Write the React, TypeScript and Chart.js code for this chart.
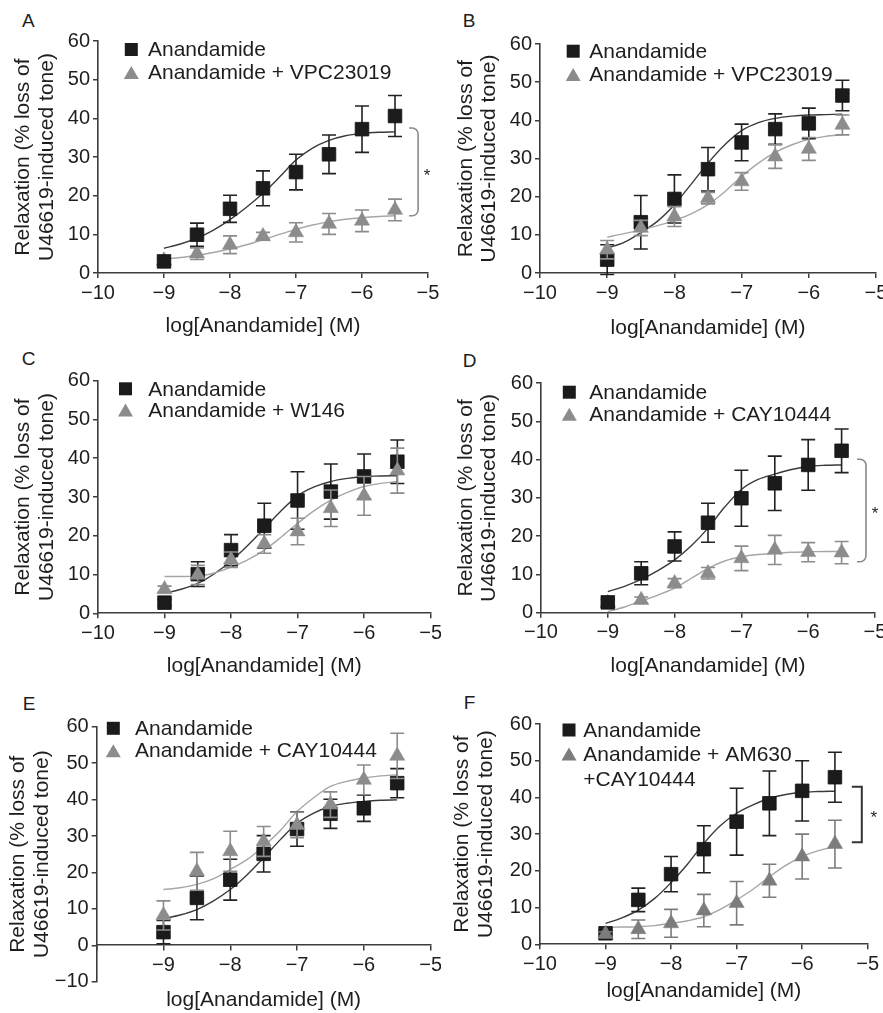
import React, { useEffect, useRef } from 'react';
import { Chart, registerables } from 'chart.js';

Chart.register(...registerables);

const FONT = '"Liberation Sans", Arial, Helvetica, sans-serif';

// ---------- shared axes / x positions ----------
const concentrations = [-9, -8.5, -8, -7.5, -7, -6.5, -6, -5.5];
const fitX = [-9, -8.75, -8.5, -8.25, -8, -7.75, -7.5, -7.25, -7, -6.75, -6.5, -6.25, -6, -5.75, -5.5];
const xTickValues = [-10, -9, -8, -7, -6, -5];
const yTickValues = [0, 10, 20, 30, 40, 50, 60];
const yTickValuesE = [-10, 0, 10, 20, 30, 40, 50, 60];
const xTitle = 'log[Anandamide] (M)';
const yTitle = ['Relaxation (% loss of', 'U46619-induced tone)'];
const blackLabel = ['Anandamide'];

// ---------- Panel A ----------
const aBlackMean = [3.0, 9.9, 16.6, 21.9, 26.1, 30.7, 37.2, 40.6];
const aBlackErr = [0.8, 3.0, 3.5, 4.5, 4.6, 5.0, 6.0, 5.3];
const aGrayMean = [3.2, 5.0, 7.3, 9.5, 10.5, 12.7, 13.5, 16.3];
const aGrayErr = [0.8, 1.5, 2.3, 1.0, 2.5, 2.7, 2.8, 2.8];
const aBlackFit = [6.4, 7.5, 9.0, 11.1, 13.8, 17.0, 20.6, 24.8, 29.2, 32.3, 34.3, 35.5, 36.1, 36.4, 36.5];
const aGrayFit = [3.6, 4.0, 4.6, 5.3, 6.2, 7.3, 8.6, 10.0, 11.3, 12.4, 13.3, 13.9, 14.3, 14.6, 14.8];
const aGrayLabel = ['Anandamide + VPC23019'];

// ---------- Panel B ----------
const bBlackMean = [3.5, 13.3, 19.4, 27.2, 34.2, 37.7, 39.2, 46.5];
const bBlackErr = [3.9, 7.0, 6.3, 5.7, 4.8, 4.0, 4.0, 4.0];
const bGrayMean = [6.1, 11.8, 14.8, 19.6, 24.0, 30.5, 32.5, 38.8];
const bGrayErr = [2.4, 2.0, 2.6, 1.5, 2.3, 3.1, 3.0, 2.6];
const bBlackFit = [6.5, 8.0, 10.6, 13.6, 17.9, 23.3, 28.8, 33.6, 37.3, 39.4, 40.5, 41.1, 41.4, 41.5, 41.6];
const bGrayFit = [9.4, 10.3, 11.3, 12.4, 13.8, 15.5, 17.9, 21.3, 25.3, 28.8, 31.6, 33.6, 35.0, 35.8, 36.2];
const bGrayLabel = ['Anandamide + VPC23019'];

// ---------- Panel C ----------
const cBlackMean = [2.75, 10.1, 16.3, 22.6, 29.1, 31.4, 35.3, 39.1];
const cBlackErr = [0.8, 3.2, 4.0, 5.8, 7.4, 7.1, 5.8, 5.6];
const cGrayMean = [6.2, 9.9, 13.8, 17.9, 21.1, 27.1, 30.3, 36.8];
const cGrayErr = [0.8, 2.5, 2.0, 2.4, 3.4, 4.7, 5.0, 5.8];
const cBlackFit = [5.2, 6.2, 7.7, 10.2, 13.5, 17.5, 21.9, 26.4, 30.3, 32.6, 34.0, 34.8, 35.3, 35.4, 35.5];
const cGrayFit = [9.5, 9.5, 9.6, 10.4, 11.9, 13.8, 16.3, 19.6, 23.2, 26.5, 29.2, 31.2, 32.7, 33.5, 34.0];
const cGrayLabel = ['Anandamide + W146'];

// ---------- Panel D ----------
const dBlackMean = [2.7, 10.3, 17.3, 23.5, 29.9, 33.8, 38.6, 42.3];
const dBlackErr = [0.8, 3.0, 3.8, 5.1, 7.3, 7.1, 6.6, 5.7];
const dGrayMean = [2.5, 3.3, 7.7, 10.3, 14.2, 16.4, 15.8, 15.7];
const dGrayErr = [0.5, 0.8, 1.2, 1.5, 3.2, 3.8, 2.5, 2.9];
const dBlackFit = [5.5, 6.9, 8.7, 11.0, 13.8, 17.5, 22.1, 27.6, 32.2, 34.8, 36.2, 37.4, 38.2, 38.5, 38.6];
const dGrayFit = [0.3, 1.5, 3.0, 4.6, 6.4, 9.0, 11.6, 13.5, 14.6, 15.2, 15.5, 15.8, 15.9, 16.0, 16.0];
const dGrayLabel = ['Anandamide + CAY10444'];

// ---------- Panel E ----------
const eBlackMean = [3.6, 13.0, 18.0, 25.1, 31.9, 36.1, 37.6, 44.5];
const eBlackErr = [3.2, 6.0, 5.6, 5.0, 4.7, 4.0, 3.6, 4.0];
const eGrayMean = [8.2, 20.3, 25.8, 28.5, 33.0, 38.6, 45.4, 52.0];
const eGrayErr = [4.0, 5.2, 5.5, 4.1, 3.5, 3.5, 4.1, 6.2];
const eBlackFit = [7.3, 8.3, 9.8, 12.2, 15.3, 19.3, 24.0, 29.0, 33.5, 36.3, 38.1, 39.0, 39.5, 39.8, 39.9];
const eGrayFit = [15.3, 15.8, 16.7, 18.3, 20.8, 23.5, 27.2, 31.5, 36.7, 40.5, 43.6, 45.0, 45.9, 46.5, 46.8];
const eGrayLabel = ['Anandamide + CAY10444'];

// ---------- Panel F ----------
const fBlackMean = [3.0, 12.1, 19.1, 25.9, 33.4, 38.4, 41.8, 45.5];
const fBlackErr = [0.8, 3.2, 4.8, 6.4, 9.1, 8.8, 8.2, 6.8];
const fGrayMean = [2.8, 4.1, 5.7, 9.2, 11.2, 17.3, 23.9, 27.3];
const fGrayErr = [0.6, 2.5, 3.8, 4.4, 5.9, 4.5, 6.1, 6.5];
const fBlackFit = [5.7, 7.2, 9.3, 12.5, 16.8, 21.8, 27.5, 32.3, 35.7, 38.0, 39.7, 40.8, 41.4, 41.6, 41.7];
const fGrayFit = [4.6, 4.7, 4.8, 5.1, 5.7, 6.4, 7.5, 9.5, 12.1, 15.0, 18.4, 21.5, 23.9, 25.5, 26.6];
const fGrayLabel = ['Anandamide + AM630', '+CAY10444'];

// ---------- layout / styling ----------
type Rect = { x: number; y: number; w: number; h: number };
type Area = { l: number; r: number; t: number; b: number };
type Bracket = { x: number; top: number; bottom: number; rounded: boolean; color: string; width: number; starDx: number };
type Panel = {
  letter: string;
  letterPos: [number, number];
  canvas: Rect;
  area: Area;
  yTitleX: number;
  xTitleY: number;
  yMin: number;
  yTicks: number[];
  axisAtZero: boolean;
  blackMean: number[]; blackErr: number[]; grayMean: number[]; grayErr: number[];
  blackFit: number[]; grayFit: number[];
  grayLabel: string[];
  legend: { mx: number; ys: number[]; tx: number };
  grayOnTop: boolean;
  grayColor: string;
  bracket?: Bracket;
};

const GRAY = '#8c8c8c';

const panels: Panel[] = [
  {
    letter: 'A', letterPos: [22, 13],
    canvas: { x: 0, y: 26, w: 441, h: 314 }, area: { l: 98, r: 428, t: 41, b: 273 },
    yTitleX: 23.3, xTitleY: 326, yMin: 0, yTicks: yTickValues, axisAtZero: false,
    blackMean: aBlackMean, blackErr: aBlackErr, grayMean: aGrayMean, grayErr: aGrayErr,
    blackFit: aBlackFit, grayFit: aGrayFit, grayLabel: aGrayLabel,
    legend: { mx: 131.3, ys: [49.5, 72.5], tx: 148 }, grayOnTop: false, grayColor: GRAY,
    bracket: { x: -5.15, top: 37.5, bottom: 14.8, rounded: true, color: '#8a8a8a', width: 1.6, starDx: 9 },
  },
  {
    letter: 'B', letterPos: [462.7, 13],
    canvas: { x: 441, y: 26, w: 454, h: 316 }, area: { l: 540, r: 876, t: 44, b: 273 },
    yTitleX: 466, xTitleY: 328.3, yMin: 0, yTicks: yTickValues, axisAtZero: false,
    blackMean: bBlackMean, blackErr: bBlackErr, grayMean: bGrayMean, grayErr: bGrayErr,
    blackFit: bBlackFit, grayFit: bGrayFit, grayLabel: bGrayLabel,
    legend: { mx: 573.2, ys: [51.2, 74.5], tx: 589.3 }, grayOnTop: true, grayColor: GRAY,
  },
  {
    letter: 'C', letterPos: [21.7, 351.7],
    canvas: { x: 0, y: 366, w: 441, h: 314 }, area: { l: 98, r: 433, t: 380.7, b: 613.3 },
    yTitleX: 23.3, xTitleY: 666, yMin: 0, yTicks: yTickValues, axisAtZero: false,
    blackMean: cBlackMean, blackErr: cBlackErr, grayMean: cGrayMean, grayErr: cGrayErr,
    blackFit: cBlackFit, grayFit: cGrayFit, grayLabel: cGrayLabel,
    legend: { mx: 125.5, ys: [388.8, 410], tx: 148.3 }, grayOnTop: true, grayColor: GRAY,
  },
  {
    letter: 'D', letterPos: [462.7, 353],
    canvas: { x: 441, y: 366, w: 454, h: 314 }, area: { l: 541, r: 875, t: 383, b: 612.7 },
    yTitleX: 466, xTitleY: 666, yMin: 0, yTicks: yTickValues, axisAtZero: false,
    blackMean: dBlackMean, blackErr: dBlackErr, grayMean: dGrayMean, grayErr: dGrayErr,
    blackFit: dBlackFit, grayFit: dGrayFit, grayLabel: dGrayLabel,
    legend: { mx: 569.3, ys: [392.2, 414.2], tx: 589.3 }, grayOnTop: false, grayColor: GRAY,
    bracket: { x: -5.135, top: 40.1, bottom: 13.3, rounded: true, color: '#8a8a8a', width: 1.6, starDx: 9 },
  },
  {
    letter: 'E', letterPos: [22.7, 696.7],
    canvas: { x: 0, y: 700, w: 441, h: 313 }, area: { l: 96.7, r: 435, t: 726.7, b: 981.7 },
    yTitleX: 18.5, xTitleY: 1000, yMin: -10, yTicks: yTickValuesE, axisAtZero: true,
    blackMean: eBlackMean, blackErr: eBlackErr, grayMean: eGrayMean, grayErr: eGrayErr,
    blackFit: eBlackFit, grayFit: eGrayFit, grayLabel: eGrayLabel,
    legend: { mx: 113.3, ys: [728.3, 750.7], tx: 135 }, grayOnTop: true, grayColor: GRAY,
  },
  {
    letter: 'F', letterPos: [463.7, 695],
    canvas: { x: 441, y: 700, w: 454, h: 306 }, area: { l: 540, r: 867.7, t: 724, b: 944.3 },
    yTitleX: 462.7, xTitleY: 991.7, yMin: 0, yTicks: yTickValues, axisAtZero: false,
    blackMean: fBlackMean, blackErr: fBlackErr, grayMean: fGrayMean, grayErr: fGrayErr,
    blackFit: fBlackFit, grayFit: fGrayFit, grayLabel: fGrayLabel,
    legend: { mx: 569, ys: [730, 754, 779], tx: 583.3 }, grayOnTop: true, grayColor: '#7c7c7c',
    bracket: { x: -5.09, top: 42.9, bottom: 27.8, rounded: false, color: '#333333', width: 2, starDx: 12 },
  },
];

const TITLE_SIZE = 21;
const TITLE_LH = 1.12;
const L = TITLE_SIZE * TITLE_LH;
const TEXT = '#1e1e1e';
const AXIS = '#3c3c3c';

const fmt = (v: number) => (v < 0 ? '\u2212' + Math.abs(v) : String(v));

function drawSquare(ctx: CanvasRenderingContext2D, x: number, y: number, s: number, color: string) {
  ctx.fillStyle = color;
  ctx.fillRect(x - s / 2, y - s / 2, s, s);
}
function drawTriangle(ctx: CanvasRenderingContext2D, x: number, y: number, w: number, h: number, color: string) {
  ctx.fillStyle = color;
  ctx.beginPath();
  ctx.moveTo(x, y - h / 2);
  ctx.lineTo(x + w / 2, y + h / 2);
  ctx.lineTo(x - w / 2, y + h / 2);
  ctx.closePath();
  ctx.fill();
}

function makeChart(canvas: HTMLCanvasElement, p: Panel) {
  const c = p.canvas;
  const yW = p.area.l - c.x;
  const padTop = p.area.t - c.y;
  const padRight = c.x + c.w - p.area.r;
  const bottomH = c.y + c.h - p.area.b;
  const yTitlePad = p.yTitleX - c.x - L / 2;
  const xTitlePad = c.y + c.h - p.xTitleY - L / 2;

  const errorBars = {
    id: 'errorBars' + p.letter,
    beforeDatasetDraw(chart: any, args: any) {
      const ds: any = chart.data.datasets[args.index];
      if (!ds.errors) return;
      const ctx = chart.ctx;
      const ys = chart.scales.y;
      ctx.save();
      ctx.strokeStyle = ds.errorColor;
      ctx.lineWidth = 1.6;
      args.meta.data.forEach((pt: any, i: number) => {
        const v = ds.data[i].y;
        const e = ds.errors[i];
        const top = ys.getPixelForValue(v + e);
        const bot = ys.getPixelForValue(v - e);
        const x = pt.x;
        ctx.beginPath();
        ctx.moveTo(x, top);
        ctx.lineTo(x, bot);
        ctx.moveTo(x - 7, top);
        ctx.lineTo(x + 7, top);
        ctx.moveTo(x - 7, bot);
        ctx.lineTo(x + 7, bot);
        ctx.stroke();
      });
      ctx.restore();
    },
  };

  const decorations = {
    id: 'decor' + p.letter,
    afterDraw(chart: any) {
      const ctx = chart.ctx;
      ctx.save();
      // legend
      const lg = p.legend;
      const mx = lg.mx - c.x;
      const tx = lg.tx - c.x;
      const lines: { marker: string | null; text: string }[] = [
        { marker: 'square', text: blackLabel[0] },
        ...p.grayLabel.map((t, i) => ({ marker: i === 0 ? 'triangle' : null, text: t })),
      ];
      ctx.font = `21px ${FONT}`;
      ctx.textBaseline = 'middle';
      ctx.textAlign = 'left';
      lines.forEach((ln, i) => {
        const y = lg.ys[i] - c.y;
        if (ln.marker === 'square') drawSquare(ctx, mx, y, 13, '#1b1b1b');
        if (ln.marker === 'triangle') drawTriangle(ctx, mx, y, 15, 13, p.grayColor);
        ctx.fillStyle = TEXT;
        ctx.fillText(ln.text, tx, y + 1);
      });
      // bracket
      const b = p.bracket;
      if (b) {
        const xs = chart.scales.x;
        const ys = chart.scales.y;
        const bx = xs.getPixelForValue(b.x);
        const yt = ys.getPixelForValue(b.top);
        const yb = ys.getPixelForValue(b.bottom);
        const arm = b.rounded ? 9 : 10;
        ctx.strokeStyle = b.color;
        ctx.lineWidth = b.width;
        ctx.beginPath();
        if (b.rounded) {
          const r = 6;
          ctx.moveTo(bx - arm, yt);
          ctx.arcTo(bx, yt, bx, yt + r, r);
          ctx.lineTo(bx, yb - r);
          ctx.arcTo(bx, yb, bx - arm, yb, r);
          ctx.lineTo(bx - arm, yb);
        } else {
          ctx.moveTo(bx - arm, yt);
          ctx.lineTo(bx, yt);
          ctx.lineTo(bx, yb);
          ctx.lineTo(bx - arm, yb);
        }
        ctx.stroke();
        ctx.fillStyle = TEXT;
        ctx.font = `17px ${FONT}`;
        ctx.textAlign = 'center';
        ctx.textBaseline = 'middle';
        ctx.fillText('*', bx + b.starDx, (yt + yb) / 2 + 4);
      }
      ctx.restore();
    },
  };

  const mk = (arr: number[], xs: number[]) => xs.map((x, i) => ({ x, y: arr[i] }));

  const blackOrder = p.grayOnTop ? 2 : 1;
  const grayOrder = p.grayOnTop ? 1 : 2;

  const datasets: any[] = [
    {
      type: 'line', data: mk(p.blackFit, fitX), borderColor: '#3a3a3a', borderWidth: 1.4,
      pointRadius: 0, fill: false, cubicInterpolationMode: 'monotone', order: 10, clip: false, xAxisID: 'x', yAxisID: 'y',
    },
    {
      type: 'line', data: mk(p.grayFit, fitX), borderColor: '#a6a6a6', borderWidth: 1.4,
      pointRadius: 0, fill: false, cubicInterpolationMode: 'monotone', order: 9, clip: false, xAxisID: 'x', yAxisID: 'y',
    },
    {
      type: 'scatter', data: mk(p.blackMean, concentrations), errors: p.blackErr, errorColor: '#222222',
      pointStyle: 'rect', pointRadius: 9.6, backgroundColor: '#1b1b1b', borderColor: '#111111', borderWidth: 0.8,
      order: blackOrder, clip: false, xAxisID: 'x', yAxisID: 'y',
    },
    {
      type: 'scatter', data: mk(p.grayMean, concentrations), errors: p.grayErr, errorColor: p.grayColor,
      pointStyle: 'triangle', pointRadius: 8.8, backgroundColor: p.grayColor, borderColor: p.grayColor, borderWidth: 0.5,
      order: grayOrder, clip: false, xAxisID: 'x', yAxisID: 'y',
    },
  ];

  const tickFont = { family: FONT, size: 20 };
  const titleFont = { family: FONT, size: TITLE_SIZE, lineHeight: TITLE_LH };

  const xScale: any = {
    type: 'linear',
    min: -10,
    max: -5,
    position: p.axisAtZero ? { y: 0 } : 'bottom',
    afterBuildTicks: (s: any) => { s.ticks = xTickValues.map((v) => ({ value: v })); },
    ticks: {
      font: tickFont, color: TEXT, padding: 3, maxRotation: 0, autoSkip: false,
      callback: (v: number) => (p.axisAtZero && v === -10 ? '' : fmt(v)),
    },
    grid: { display: true, drawOnChartArea: false, drawTicks: true, tickLength: 5, color: AXIS, lineWidth: 1.5 },
    border: { display: true, color: AXIS, width: 1.6 },
    title: p.axisAtZero
      ? { display: false }
      : { display: true, text: xTitle, font: titleFont, color: TEXT, padding: { top: 0, bottom: xTitlePad } },
    afterFit: (s: any) => {
      s.height = p.axisAtZero ? 0 : bottomH;
      s.paddingLeft = 0; s.paddingRight = 0;
    },
  };

  const scales: any = {
    x: xScale,
    y: {
      type: 'linear',
      min: p.yMin,
      max: 60,
      position: 'left',
      afterBuildTicks: (s: any) => { s.ticks = p.yTicks.map((v) => ({ value: v })); },
      ticks: { font: tickFont, color: TEXT, padding: 3, callback: (v: number) => fmt(v) },
      grid: { display: true, drawOnChartArea: false, drawTicks: true, tickLength: 5, color: AXIS, lineWidth: 1.5 },
      border: { display: true, color: AXIS, width: 1.6 },
      title: { display: true, text: yTitle, font: titleFont, color: TEXT, padding: { top: yTitlePad, bottom: 0 } },
      afterFit: (s: any) => { s.width = yW; s.paddingTop = 0; s.paddingBottom = 0; },
    },
  };
  if (p.axisAtZero) {
    scales.xt = {
      type: 'linear', min: -10, max: -5, position: 'bottom', axis: 'x',
      ticks: { display: false },
      grid: { display: false, drawTicks: false },
      border: { display: false },
      title: { display: true, text: xTitle, font: titleFont, color: TEXT, padding: { top: 0, bottom: xTitlePad } },
      afterFit: (s: any) => { s.height = bottomH; s.paddingLeft = 0; s.paddingRight = 0; },
    };
  }

  return new Chart(canvas, {
    type: 'scatter',
    data: { datasets },
    options: {
      responsive: false,
      maintainAspectRatio: false,
      animation: false,
      events: [],
      devicePixelRatio: 1,
      layout: { padding: { top: padTop, right: padRight, left: 0, bottom: 0 } },
      plugins: { legend: { display: false }, tooltip: { enabled: false }, title: { display: false } },
      scales,
    } as any,
    plugins: [errorBars, decorations],
  });
}

function PanelCanvas({ p }: { p: Panel }) {
  const ref = useRef<HTMLCanvasElement | null>(null);
  useEffect(() => {
    if (!ref.current) return;
    const chart = makeChart(ref.current, p);
    return () => chart.destroy();
  }, [p]);
  return (
    <canvas
      ref={ref}
      width={p.canvas.w}
      height={p.canvas.h}
      style={{ position: 'absolute', left: p.canvas.x, top: p.canvas.y, width: p.canvas.w, height: p.canvas.h }}
    />
  );
}

export default function App() {
  return (
    <div
      style={{
        position: 'absolute', left: 0, top: 0, width: 883, height: 1013,
        overflow: 'hidden', background: '#ffffff', fontFamily: FONT,
      }}
    >
      {panels.map((p) => (
        <div
          key={'l' + p.letter}
          style={{
            position: 'absolute', left: p.letterPos[0], top: p.letterPos[1] - 2.5,
            fontSize: 19, lineHeight: '19px', color: TEXT,
          }}
        >
          {p.letter}
        </div>
      ))}
      {panels.map((p) => (
        <PanelCanvas key={p.letter} p={p} />
      ))}
    </div>
  );
}
